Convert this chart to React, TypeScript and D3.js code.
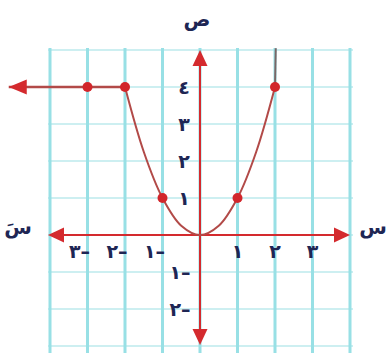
import React from "react";
import * as d3 from "d3";

const gridX = [-4, -3, -2, -1, 0, 1, 2, 3, 4];
const gridY = [-3, -2, -1, 0, 1, 2, 3, 4, 5];
const curveX = [-2, -1.5, -1, -0.5, 0, 0.5, 1, 1.5, 2];
const curveY = [4, 2.25, 1, 0.25, 0, 0.25, 1, 2.25, 4];
const topX = [2, 2.02];
const topY = [4, 5.05];
const rayX = [-2, -5.1];
const rayY = [4, 4];
const dotX = [-3, -2, -1, 1, 2];
const dotY = [4, 4, 1, 1, 4];
const xTickVals = [-3, -2, -1, 1, 2, 3];
const xTickLabels = ["٣–", "٢–", "١–", "١", "٢", "٣"];
const yTickVals = [4, 3, 2, 1, -1, -2];
const yTickLabels = ["٤", "٣", "٢", "١", "١–", "٢–"];

const W = 391;
const H = 353;

export default function App() {
  const x = d3.scaleLinear().domain([-4, 4]).range([50, 350]);
  const y = d3.scaleLinear().domain([-3, 5]).range([346, 50]);
  const axisColor = "#d42a2e";
  const curveColor = "#b24a48";
  const textColor = "#1e2654";
  const font = "DejaVu Sans";

  const line = d3
    .line<[number, number]>()
    .x((d) => x(d[0]))
    .y((d) => y(d[1]))
    .curve(d3.curveCatmullRom.alpha(0.5));
  const straight = d3
    .line<[number, number]>()
    .x((d) => x(d[0]))
    .y((d) => y(d[1]));

  const curvePts: [number, number][] = curveX.map((v, i) => [v, curveY[i]]);
  const topPts: [number, number][] = topX.map((v, i) => [v, topY[i]]);
  const rayPts: [number, number][] = rayX.map((v, i) => [v, rayY[i]]);

  const x0 = x(0);
  const y0 = y(0);
  const rayEnd = x(rayX[1]);

  const tri = (tx: number, ty: number, dir: "l" | "r" | "u" | "d", len = 16, half = 7.5) => {
    if (dir === "l") return `M${tx},${ty} L${tx + len},${ty - half} L${tx + len},${ty + half} Z`;
    if (dir === "r") return `M${tx},${ty} L${tx - len},${ty - half} L${tx - len},${ty + half} Z`;
    if (dir === "u") return `M${tx},${ty} L${tx - half},${ty + len} L${tx + half},${ty + len} Z`;
    return `M${tx},${ty} L${tx - half},${ty - len} L${tx + half},${ty - len} Z`;
  };

  const textStyle: React.CSSProperties = { unicodeBidi: "bidi-override", direction: "ltr" };

  return (
    <svg
      width={W}
      height={H}
      style={{ position: "absolute", left: 0, top: 0, background: "#ffffff" }}
    >
      {/* horizontal grid */}
      {gridY.map((g) => (
        <line
          key={"h" + g}
          x1={48}
          x2={353}
          y1={y(g)}
          y2={y(g)}
          stroke="#cdeff1"
          strokeWidth={2}
        />
      ))}
      {/* vertical grid */}
      {gridX.map((g) => (
        <line
          key={"v" + g}
          x1={x(g)}
          x2={x(g)}
          y1={48}
          y2={H}
          stroke="#98e0e5"
          strokeWidth={3}
        />
      ))}

      {/* axes */}
      <line x1={x(-4) + 8} x2={x(4) - 8} y1={y0} y2={y0} stroke={axisColor} strokeWidth={2} />
      <path d={tri(x(-4) - 2, y0, "l")} fill={axisColor} />
      <path d={tri(x(4), y0, "r")} fill={axisColor} />
      <line x1={x0} x2={x0} y1={y(5) + 8} y2={343 - 8} stroke={axisColor} strokeWidth={2} />
      <path d={tri(x0, y(5), "u")} fill={axisColor} />
      <path d={tri(x0, 345, "d")} fill={axisColor} />

      {/* curve */}
      <path d={line(curvePts) || ""} fill="none" stroke={curveColor} strokeWidth={2} />
      <path d={straight(topPts) || ""} fill="none" stroke="#7a6666" strokeWidth={2} />
      <path d={straight(rayPts) || ""} fill="none" stroke={curveColor} strokeWidth={2.5} />
      <path d={tri(rayEnd, y(4), "l", 18, 7.5)} fill={axisColor} />

      {/* dots */}
      {dotX.map((v, i) => (
        <circle key={"d" + i} cx={x(v)} cy={y(dotY[i])} r={5} fill="#d2262b" />
      ))}

      {/* x tick labels */}
      {xTickVals.map((v, i) => (
        <text
          key={"xt" + i}
          x={v < 0 ? x(v) - 8 : x(v)}
          y={y0 + 23}
          fontFamily={font}
          fontWeight="bold"
          fontSize={19}
          fill={textColor}
          textAnchor="middle"
          style={textStyle}
        >
          {xTickLabels[i]}
        </text>
      ))}
      {/* y tick labels */}
      {yTickVals.map((v, i) => (
        <text
          key={"yt" + i}
          x={v < 0 ? x0 - 20 : x0 - 16}
          y={y(v) + 7}
          fontFamily={font}
          fontWeight="bold"
          fontSize={19}
          fill={textColor}
          textAnchor="middle"
          style={textStyle}
        >
          {yTickLabels[i]}
        </text>
      ))}

      {/* axis titles */}
      <text x={x0 - 3} y={26} fontFamily={font} fontWeight="bold" fontSize={20} fill={textColor} textAnchor="middle">
        ص
      </text>
      <text x={373} y={234} fontFamily={font} fontWeight="bold" fontSize={20} fill={textColor} textAnchor="middle">
        س
      </text>
      <text x={18} y={234} fontFamily={font} fontWeight="bold" fontSize={20} fill={textColor} textAnchor="middle">
        سَ
      </text>
    </svg>
  );
}
